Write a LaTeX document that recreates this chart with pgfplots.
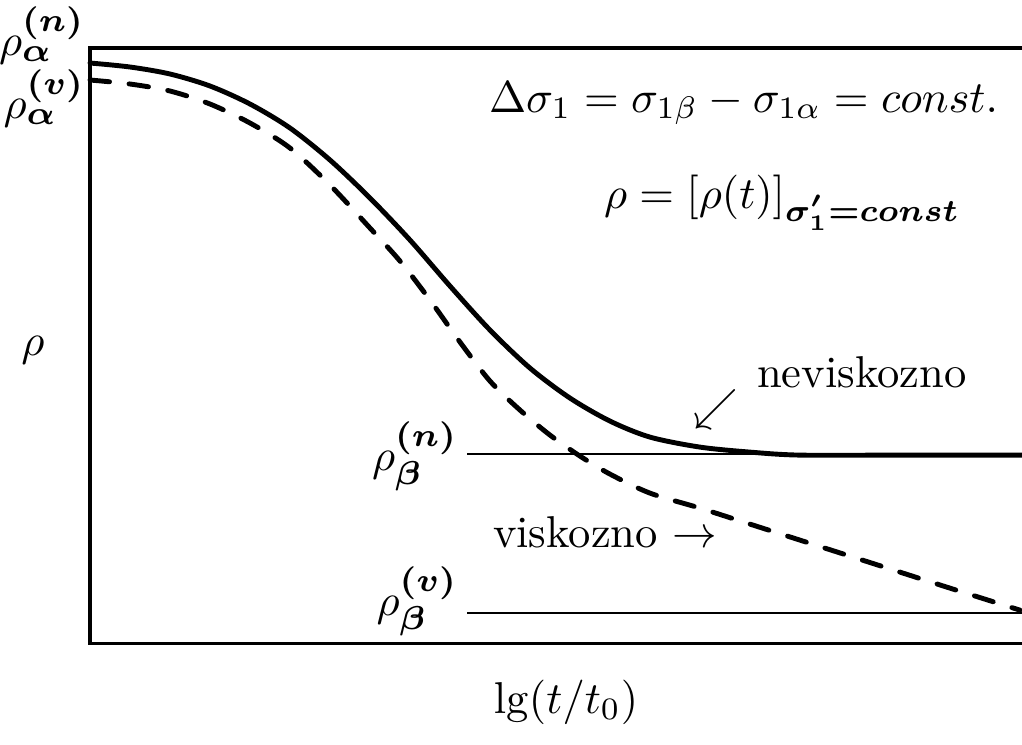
\documentclass[border=0pt]{standalone}
\usepackage{pgfplots}
\pgfplotsset{compat=1.18}
\usepackage{amsmath}
\usepackage{graphicx}

% level labels: rho with enlarged bold sub- and superscripts
\newcommand{\scr}[1]{\scalebox{1.06}{$\scriptstyle\boldsymbol{#1}$}}
\newcommand{\lev}[2]{\rho_{\scr{#1}}^{\scr{(#2)}}}

\begin{document}
\begin{tikzpicture}[every node/.style={inner sep=0pt, outer sep=0pt}]
\begin{axis}[
  name=ax,
  scale only axis,
  width=229.2pt, height=166.9pt,
  xmin=0, xmax=1022, ymin=0, ymax=744,
  axis lines=none,
  clip=false,
]
% frame: left, top and bottom edges (open on the right)
\addplot[black, line width=0.68pt] coordinates {(1022,696) (90,696) (90,101) (1022,101)};

% asymptotic levels
\addplot[black, line width=0.43pt] coordinates {(467,290) (1022,290)};
\addplot[black, line width=0.43pt] coordinates {(467,131) (1022,131)};

% non-viscous response
\addplot[black, line width=1.1pt, smooth, line cap=round] coordinates {
 (90,681) (130,677) (170,670) (210,658) (250,640) (290,616) (330,584)
 (370,546) (410,504) (450,458) (490,414) (530,376) (570,346) (610,323)
 (650,307) (700,297) (750,292) (800,289) (900,289) (1022,289)};

% viscous response
\addplot[black, line width=1.1pt, smooth, line cap=round,
  dash pattern=on 4.4pt off 4.4pt] coordinates {
 (90,664) (130,660) (170,653) (210,640) (250,621) (290,596) (330,559)
 (370,516) (400,483) (430,444) (460,402) (490,363) (520,334) (550,309)
 (580,288) (610,270) (650,251) (700,236) (750,220) (800,204) (850,188)
 (900,172) (950,156) (1020,134)};

% labels
\node[inner sep=0pt, anchor=base east] at (axis cs:85,689) {$\lev{\alpha}{n}$};
\node[inner sep=0pt, anchor=base east] at (axis cs:85,626) {$\lev{\alpha}{v}$};
\node[inner sep=0pt] at (axis cs:33,394) {$\rho$};
\node[inner sep=0pt, anchor=base east] at (axis cs:458,274) {$\lev{\beta}{n}$};
\node[inner sep=0pt, anchor=base east] at (axis cs:458,129) {$\lev{\beta}{v}$};
\node[inner sep=0pt, anchor=base] at (axis cs:566,31) {$\lg(t/t_0)$};

\node[inner sep=0pt, anchor=base west] at (axis cs:489,632)
  {$\Delta\sigma_1=\sigma_{1\beta}-\sigma_{1\alpha}=const.$};
\node[inner sep=0pt, anchor=base west] at (axis cs:604,536)
  {$\rho=\left[\rho(t)\right]_{\boldsymbol{\sigma_1'=const}}$};

\node[inner sep=0pt, anchor=base west] at (axis cs:757,357) {neviskozno};
\node[inner sep=0pt] at (axis cs:716,335) {$\swarrow$};
\node[inner sep=0pt, anchor=base west] at (axis cs:493,197) {viskozno $\rightarrow$};
\end{axis}
% the page is exactly the plotting area
\pgfresetboundingbox
\path (ax.south west) rectangle (ax.north east);
\end{tikzpicture}
\end{document}
